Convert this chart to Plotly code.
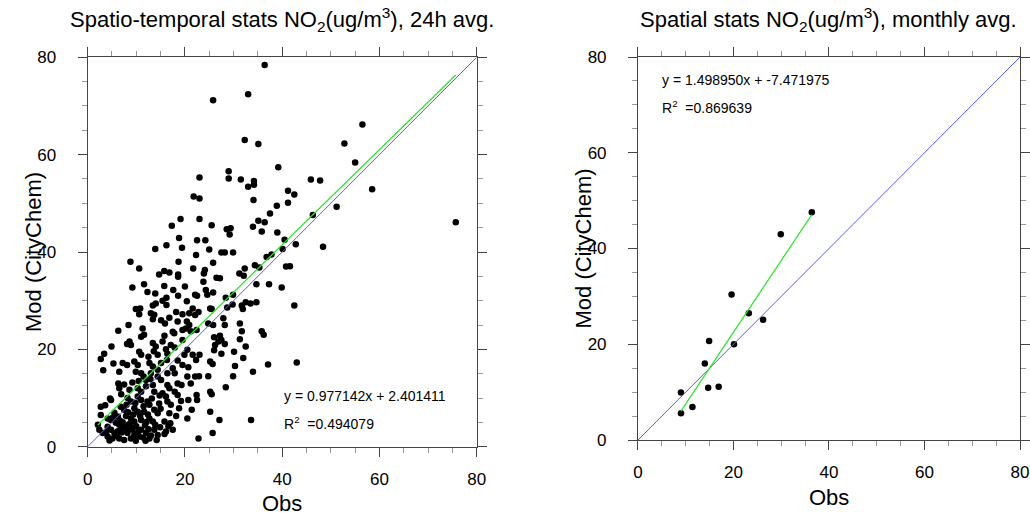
import plotly.graph_objects as go

# ---------------- data ----------------
obs_24h = [
    36.4, 33.0, 25.8, 32.3, 35.1, 39.2, 29.0, 29.0, 23.0, 31.5, 34.2, 34.2, 33.0, 41.2, 42.5, 21.8, 23.0, 34.1, 41.2, 38.9,
    37.5, 19.1, 23.0, 17.3, 25.5, 35.1, 36.4, 34.0, 35.8, 28.6, 29.4, 29.2, 18.8, 22.5, 24.2, 39.0, 40.5, 16.2, 19.4, 13.9,
    25.0, 42.8, 40.1,
    56.5, 52.8, 55.0, 45.9, 47.8, 58.5, 51.2, 46.3, 75.7, 48.4,
    8.8, 10.6, 18.7, 21.7, 15.75, 16.8, 14.7, 18.6, 18.6, 9.2, 11.6, 15.75, 12.3, 13.9, 17.6, 20.0, 18.6, 16.2, 15.4, 20.4,
    16.2, 13.4, 14.0, 9.9, 10.8, 10.6, 13.0, 13.7, 13.4, 18.2, 19.5, 20.9, 16.8, 15.1, 15.9, 18.5, 20.4, 20.9, 8.4, 11.3,
    6.3, 17.5, 19.5, 20.2,
    22.3, 27.5, 28.2, 29.9, 36.8, 37.8, 25.8, 24.1, 23.9, 26.5, 27.2, 23.8, 32.3, 31.2, 32.1, 34.4, 35.3, 40.8, 41.6, 34.7,
    37.3, 39.9, 22.1, 22.5, 24.3, 24.6, 25.8, 29.9, 28.4, 25.2, 25.5, 21.6, 22.8, 22.1, 28.7, 29.8, 31.7, 32.5, 33.5, 34.7,
    31.9, 42.5, 27.9, 24.8, 25.8, 28.2, 31.3, 22.4,
    26.0, 27.2, 27.5, 28.2, 26.9, 31.3, 31.7, 35.8, 36.2, 32.5, 26.2, 26.0, 27.5, 30.1, 32.0, 23.0, 22.3, 25.2, 25.7, 30.3,
    37.1, 43.0, 34.0, 29.9, 24.8, 22.9, 22.1, 28.4, 25.2, 25.5, 22.4, 22.5, 25.2, 27.1, 33.6, 25.7, 22.8,
    11.0, 11.6, 8.6, 8.9, 8.1, 4.9, 17.1, 17.9, 19.5, 15.8, 21.2, 10.6, 11.0, 3.4, 2.7, 7.2, 8.1, 6.5, 9.6, 10.3,
    12.5, 14.4, 16.1, 16.4, 15.1, 18.5, 19.5, 20.7, 17.5, 17.9, 20.5, 21.2, 11.0, 11.5, 12.0, 9.9, 13.0, 14.4, 14.4, 15.1,
    6.3, 6.5, 4.8, 2.7, 8.6, 10.3, 11.0, 12.0, 13.4, 13.7, 16.4, 16.8, 18.5, 19.3, 15.4, 16.1, 17.9, 18.5, 20.7, 21.4,
    10.3, 11.0, 8.2, 8.9, 12.3, 12.7, 14.7, 16.4, 17.1, 18.8, 20.5, 6.8, 7.5, 9.6, 10.3, 11.6, 13.7, 14.4, 16.8, 18.2,
    2.7, 4.1, 4.8, 6.2, 7.9, 8.9, 9.6, 11.0, 12.7, 13.4, 15.8, 2.1, 2.4, 4.1, 4.8, 5.5, 6.5, 6.8, 7.9, 8.2,
    9.2, 9.6, 11.0, 10.6, 12.0, 13.7, 14.4, 16.1, 17.5, 4.1, 5.1, 6.5, 7.5, 8.9, 12.7, 15.8, 3.1, 13.4, 14.0, 15.4,
    20.5, 21.6, 19.9, 17.8, 12.7, 13.4, 16.4, 3.2, 5.3, 3.6, 4.6,
    5.8, 7.2, 8.5, 10.0, 11.8, 12.4, 14.9, 6.0, 7.0, 9.9, 11.4, 13.0, 5.5, 8.0, 9.8, 11.5, 13.2, 14.8, 15.0, 10.5,
    12.9, 7.5, 9.2, 3.8, 4.5, 17.0, 19.2, 6.9, 16.3, 13.6,
    5.2, 6.6, 8.3, 9.4, 10.8, 12.1, 13.9, 7.3, 9.0, 10.4, 12.5, 6.2, 11.9, 14.2, 16.6,
]
mod_24h = [
    78.4, 72.4, 71.2, 63.0, 62.2, 57.4, 56.6, 55.1, 55.3, 54.9, 54.6, 53.8, 53.4, 52.6, 51.8, 51.4, 51.0, 50.7, 50.1, 49.5,
    47.9, 46.8, 46.8, 45.4, 45.5, 46.4, 46.1, 45.2, 44.2, 44.7, 44.9, 43.6, 42.9, 42.4, 42.4, 44.0, 42.5, 41.4, 40.9, 40.6,
    40.5, 41.6, 40.6,
    66.2, 62.3, 58.4, 54.9, 54.7, 52.9, 49.3, 47.6, 46.1, 41.1,
    38.0, 36.6, 38.0, 36.6, 36.1, 35.8, 35.4, 35.4, 34.9, 32.7, 33.4, 33.0, 31.8, 31.5, 32.2, 32.9, 31.0, 30.6, 30.0, 29.9,
    29.1, 29.0, 29.4, 28.3, 28.4, 27.2, 27.4, 27.1, 26.2, 27.7, 27.2, 27.4, 26.5, 26.0, 25.3, 25.7, 25.7, 25.0, 25.0, 24.3,
    23.8, 23.6, 24.0, 24.3,
    39.4, 39.9, 39.9, 39.9, 39.0, 39.5, 37.8, 36.3, 35.6, 34.7, 34.6, 33.9, 36.6, 35.6, 35.1, 37.3, 36.8, 37.0, 37.1, 33.4,
    33.4, 32.7, 31.2, 31.0, 32.2, 31.2, 31.7, 31.2, 30.6, 28.4, 28.3, 28.4, 27.7, 27.05, 28.6, 29.2, 29.0, 29.7, 29.4, 29.7,
    28.3, 29.0, 26.4, 25.3, 25.0, 25.0, 25.3, 24.0,
    22.5, 22.8, 21.9, 21.1, 21.6, 22.1, 23.7, 23.7, 23.0, 20.6, 20.9, 19.8, 19.1, 19.5, 18.2, 18.9, 17.8, 17.5, 17.0, 16.6,
    16.9, 17.3, 15.4, 14.5, 14.5, 14.5, 14.4, 12.2, 11.3, 10.8, 10.6, 9.6, 7.2, 5.5, 5.5, 2.8, 1.7,
    22.6, 23.0, 21.6, 20.9, 21.1, 20.6, 20.9, 20.4, 21.9, 22.8, 23.7, 19.5, 18.9, 19.1, 18.0, 17.2, 16.8, 15.4, 17.5, 16.8,
    18.5, 18.9, 20.0, 19.1, 17.2, 17.7, 16.8, 16.3, 16.1, 15.1, 14.4, 13.0, 15.1, 14.4, 13.7, 15.4, 15.1, 15.8, 14.4, 13.7,
    13.0, 12.0, 9.6, 8.2, 11.7, 12.0, 11.3, 12.4, 12.7, 11.3, 12.7, 12.0, 13.0, 12.7, 11.0, 10.3, 11.3, 10.6, 9.6, 7.6,
    10.3, 9.6, 10.0, 9.3, 9.3, 8.6, 8.9, 9.3, 8.6, 7.9, 5.8, 8.2, 7.6, 7.9, 7.2, 7.2, 7.6, 6.9, 6.9, 6.3,
    6.5, 5.8, 5.5, 6.2, 6.3, 5.8, 5.2, 5.5, 5.8, 5.2, 5.2, 4.5, 3.5, 4.1, 3.5, 2.8, 4.5, 3.5, 3.8, 2.8,
    3.5, 2.4, 3.5, 2.1, 2.8, 3.5, 2.4, 3.1, 3.5, 2.1, 1.7, 1.7, 1.4, 1.7, 1.7, 2.6, 2.8, 21.3, 20.6, 21.6,
    19.9, 18.9, 18.9, 23.3, 17.2, 16.5, 15.1, 15.7, 17.1, 8.5, 9.9,
    4.9, 5.0, 4.6, 4.2, 4.4, 6.6, 4.0, 2.2, 2.9, 1.2, 1.9, 2.3, 7.0, 8.6, 9.0, 8.3, 9.9, 10.5, 7.8, 13.5,
    13.9, 12.8, 13.2, 3.0, 1.3, 4.8, 9.4, 10.8, 17.8, 19.6,
    6.0, 5.4, 7.1, 6.6, 6.3, 5.1, 4.5, 4.3, 4.0, 3.0, 3.6, 3.2, 1.2, 1.4, 4.2,
]
fit_24h = (0.977142, 2.401411)
r2_24h = 0.494079

obs_mon = [19.6, 23.2, 26.2, 14.9, 20.1, 14.0, 9.0, 14.7, 16.9, 11.4, 9.0, 29.9, 36.4]
mod_mon = [30.4, 26.5, 25.1, 20.7, 20.0, 16.0, 9.9, 10.9, 11.1, 6.9, 5.6, 43.0, 47.6]
fit_mon = (1.498950, -7.471975)
r2_mon = 0.869639

axis_range = [0, 80]
tick_vals = [0, 20, 40, 60, 80]
title_24h = "Spatio-temporal stats NO<sub>2</sub>(ug/m<sup>3</sup>), 24h avg."
title_mon = "Spatial stats NO<sub>2</sub>(ug/m<sup>3</sup>), monthly avg."
x_title = "Obs"
y_title = "Mod (CityChem)"

FONT = "Liberation Sans, Arial, Helvetica, sans-serif"
BLUE = "rgb(90,90,255)"
GREEN = "rgb(40,230,40)"

fig = go.Figure()


def add_panel(obs, mod, fit, xa, ya):
    fig.add_trace(go.Scatter(x=obs, y=mod, mode="markers", xaxis=xa, yaxis=ya,
                             marker=dict(color="black", size=6.5, line=dict(width=0)),
                             showlegend=False, hoverinfo="x+y"))
    fig.add_trace(go.Scatter(x=axis_range, y=axis_range, mode="lines", xaxis=xa, yaxis=ya,
                             line=dict(color=BLUE, width=1), showlegend=False, hoverinfo="skip"))
    x0, x1 = min(obs), max(obs)
    a, b = fit
    fig.add_trace(go.Scatter(x=[x0, x1], y=[a * x0 + b, a * x1 + b], mode="lines", xaxis=xa, yaxis=ya,
                             line=dict(color=GREEN, width=1.2), showlegend=False, hoverinfo="skip"))


add_panel(obs_24h, mod_24h, fit_24h, "x", "y")
add_panel(obs_mon, mod_mon, fit_mon, "x2", "y2")


def axis(domain, anchor, is_x):
    return dict(
        domain=domain, anchor=anchor, range=axis_range, tickvals=tick_vals,
        showline=True, linecolor="#444", linewidth=1, mirror="ticks",
        ticks="outside", ticklen=9, tickwidth=1, tickcolor="#444",
        minor=dict(dtick=5, ticks="outside", ticklen=5, tickcolor="#999", tickwidth=1, showgrid=False),
        showgrid=False, zeroline=False,
        tickfont=dict(family=FONT, size=17, color="black"),
        ticklabelstandoff=8 if is_x else 18,
        automargin=False, fixedrange=True,
    )


L_x = [0.0851, 0.4628]
L_y = [0.1326, 0.8887]
R_x = [0.6194, 0.9903]
R_y = [0.1456, 0.8893]

fig.update_layout(
    width=1030, height=515,
    margin=dict(l=0, r=0, t=0, b=0),
    paper_bgcolor="white", plot_bgcolor="white",
    font=dict(family=FONT, color="black"),
    xaxis=axis(L_x, "y", True),
    yaxis=axis(L_y, "x", False),
    xaxis2=axis(R_x, "y2", True),
    yaxis2=axis(R_y, "x2", False),
)

W, H = 1030.0, 515.0
big = dict(family=FONT, size=22, color="black")
ann = []
ann.append(dict(text=title_24h, x=sum(L_x) / 2, y=1 - 20 / H, xref="paper", yref="paper",
                xanchor="center", yanchor="middle", showarrow=False, font=big))
ann.append(dict(text=title_mon, x=sum(R_x) / 2, y=1 - 20 / H, xref="paper", yref="paper",
                xanchor="center", yanchor="middle", showarrow=False, font=big))
# axis titles
ann.append(dict(text=x_title, x=sum(L_x) / 2, y=1 - 503 / H, xref="paper", yref="paper",
                xanchor="center", yanchor="middle", showarrow=False, font=big))
ann.append(dict(text=x_title, x=sum(R_x) / 2, y=1 - 497 / H, xref="paper", yref="paper",
                xanchor="center", yanchor="middle", showarrow=False, font=big))
ann.append(dict(text=y_title, x=33 / W, y=sum(L_y) / 2, xref="paper", yref="paper", textangle=-90,
                xanchor="center", yanchor="middle", showarrow=False, font=big))
ann.append(dict(text=y_title, x=584 / W, y=sum(R_y) / 2, xref="paper", yref="paper", textangle=-90,
                xanchor="center", yanchor="middle", showarrow=False, font=big))


def fit_text(fit):
    return "y = %.6fx + %.6f" % fit


def r2_text(r2):
    return "R<sup>2</sup>\u00a0\u00a0=%.6f" % r2


small = dict(family=FONT, size=14, color="black")
ann.append(dict(text=fit_text(fit_24h), x=40, y=10.4, xref="x", yref="y", xanchor="left", yanchor="middle",
                showarrow=False, font=small))
ann.append(dict(text=r2_text(r2_24h), x=40, y=4.9, xref="x", yref="y", xanchor="left", yanchor="middle",
                showarrow=False, font=small))
ann.append(dict(text=fit_text(fit_mon), x=4.6, y=75.2, xref="x2", yref="y2", xanchor="left", yanchor="middle",
                showarrow=False, font=small))
ann.append(dict(text=r2_text(r2_mon), x=4.6, y=69.6, xref="x2", yref="y2", xanchor="left", yanchor="middle",
                showarrow=False, font=small))
fig.update_layout(annotations=ann)

fig.write_html("out.html", config={"displayModeBar": False},
               post_script="document.body.style.margin='0px';document.body.style.overflow='hidden';")
